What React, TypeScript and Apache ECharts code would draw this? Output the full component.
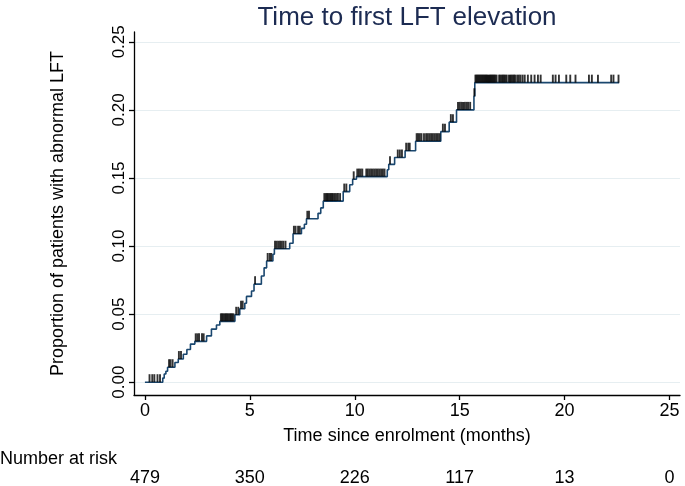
import React, { useEffect, useRef } from 'react';
import * as echarts from 'echarts';

// Kaplan-Meier failure curve: step times (months) and cumulative proportion after each step
const stepTimes = [0, 0.85, 0.92, 1.0, 1.08, 1.43, 1.59, 1.83, 2.0, 2.17, 2.38, 2.94, 3.17, 3.41, 3.57, 4.29, 4.52, 4.76, 4.84, 5.08, 5.2, 5.55, 5.68, 5.8, 6.1, 6.17, 6.9, 7.06, 7.46, 7.6, 7.7, 8.25, 8.38, 8.5, 9.45, 9.76, 9.9, 10.08, 11.55, 11.62, 11.9, 12.4, 12.9, 14.1, 14.5, 14.85, 15.68, 15.72, 22.6];
const stepValues = [0, 0.003, 0.006, 0.008, 0.011, 0.0145, 0.017, 0.0205, 0.024, 0.028, 0.03, 0.034, 0.039, 0.042, 0.0447, 0.0495, 0.054, 0.058, 0.063, 0.067, 0.072, 0.078, 0.084, 0.089, 0.094, 0.098, 0.102, 0.109, 0.113, 0.116, 0.12, 0.124, 0.128, 0.133, 0.14, 0.145, 0.149, 0.151, 0.156, 0.16, 0.165, 0.17, 0.177, 0.184, 0.191, 0.2, 0.21, 0.22, 0.22];

// Censoring times (months)
const censorTimes = [
  0.22, 0.35, 0.45, 0.6, 0.72,
  1.15, 1.22, 1.32, 1.62, 1.72,
  2.42, 2.5, 2.58, 2.72, 2.8,
  3.62, 3.68, 3.74, 3.8, 3.86, 3.92, 3.98, 4.04, 4.1, 4.16, 4.22,
  4.35, 4.45, 4.58, 4.66, 5.25,
  5.85, 5.95, 6.02, 6.2, 6.28, 6.36, 6.44, 6.52, 6.6, 6.7,
  7.1, 7.18, 7.3, 7.38, 7.74, 7.82,
  8.55, 8.62, 8.68, 8.74, 8.8, 8.86, 8.92, 8.98, 9.05, 9.12, 9.2, 9.3,
  9.5, 9.6, 9.95,
  10.12, 10.2, 10.28, 10.36, 10.55, 10.62, 10.7, 10.78, 10.86, 10.94, 11.02, 11.1, 11.18, 11.26, 11.34, 11.42,
  11.68, 12.05, 12.15, 12.25, 12.45, 12.55, 12.62,
  12.95, 13.02, 13.1, 13.18, 13.3, 13.4, 13.48, 13.56, 13.64, 13.72, 13.8, 13.88, 13.96, 14.04,
  14.2, 14.3, 14.58, 14.68,
  14.92, 15.0, 15.08, 15.16, 15.24, 15.32, 15.4, 15.5, 15.7,
  15.75, 15.8, 15.85, 15.9, 15.95, 16.0, 16.05, 16.1, 16.15, 16.2, 16.25, 16.3, 16.35, 16.4, 16.45, 16.5, 16.55, 16.6, 16.65, 16.7, 16.76,
  16.88, 16.94, 17.0, 17.06, 17.12, 17.18, 17.24, 17.34, 17.4, 17.46, 17.52, 17.58, 17.64, 17.74, 17.82, 17.9,
  18.0, 18.1, 18.25, 18.41, 18.57, 18.73, 18.86,
  19.44, 19.57, 19.73, 20.08, 20.27, 20.52, 21.16, 21.3, 21.59, 22.22, 22.33, 22.57,
];

const xTicks = [0, 5, 10, 15, 20, 25];
const yTicks = [0, 0.05, 0.1, 0.15, 0.2, 0.25];
const numberAtRisk = [479, 350, 226, 117, 13, 0];

const FONT = "'Liberation Sans', Arial, Helvetica, sans-serif";

function levelAt(t: number): number {
  let v = 0;
  for (let i = 0; i < stepTimes.length; i++) {
    if (stepTimes[i] <= t) v = stepValues[i];
  }
  return v;
}

export default function App() {
  const ref = useRef<HTMLDivElement>(null);
  useEffect(() => {
    if (!ref.current) return;
    const chart = echarts.init(ref.current, null, { renderer: 'svg' });
    const lineData = stepTimes.map((t, i) => [t, stepValues[i]]);
    const censorData = censorTimes.map((t) => [t, levelAt(t)]);
    const xMin = -0.52;
    const xMax = 25.5;
    chart.setOption({
      animation: false,
      title: {
        text: 'Time to first LFT elevation',
        left: 407,
        top: 2,
        padding: 0,
        textAlign: 'center',
        textStyle: { fontFamily: FONT, fontSize: 26, lineHeight: 28, fontWeight: 'normal', color: '#1c2b52' },
      },
      grid: { left: 134, right: 5, top: 32, bottom: 89 },
      xAxis: [
        {
          type: 'value',
          min: xMin,
          max: xMax,
          axisLine: { show: true, onZero: false, lineStyle: { color: '#000', width: 1.3 } },
          axisTick: { show: true, customValues: xTicks, length: 5, lineStyle: { color: '#000', width: 1.3 } },
          axisLabel: { customValues: xTicks, fontSize: 18, color: '#000', margin: 6, fontFamily: FONT },
          splitLine: { show: false },
          name: 'Time since enrolment (months)',
          nameLocation: 'middle',
          nameGap: 31,
          nameTextStyle: { fontFamily: FONT, fontSize: 18, color: '#000' },
        },
        {
          type: 'value',
          min: xMin,
          max: xMax,
          position: 'bottom',
          axisLine: { show: false },
          axisTick: { show: false, customValues: xTicks },
          axisLabel: {
            customValues: xTicks,
            fontSize: 18,
            color: '#000',
            margin: 73,
            fontFamily: FONT,
            formatter: (v: number) => {
              const idx = xTicks.indexOf(Math.round(v));
              return idx >= 0 ? String(numberAtRisk[idx]) : '';
            },
          },
          splitLine: { show: false },
        },
      ],
      yAxis: {
        type: 'value',
        min: -0.0094,
        max: 0.2572,
        axisLine: { show: true, onZero: false, lineStyle: { color: '#000', width: 1.3 } },
        axisTick: { show: true, customValues: yTicks, length: 5, lineStyle: { color: '#000', width: 1.3 } },
        axisLabel: {
          customValues: yTicks,
          rotate: 90,
          fontSize: 17,
          color: '#000',
          margin: 7,
          fontFamily: FONT,
          formatter: (v: number) => v.toFixed(2),
        },
        splitLine: { show: true, lineStyle: { color: '#e6eef1', width: 1.2 } },
        name: 'Proportion of patients with abnormal LFT',
        nameLocation: 'middle',
        nameGap: 68,
        nameRotate: 90,
        nameTextStyle: { fontFamily: FONT, fontSize: 18, color: '#000' },
      },
      graphic: [
        {
          type: 'text',
          left: 0,
          top: 449,
          style: { text: 'Number at risk', fontSize: 18, fontFamily: FONT, fill: '#000' },
        },
      ],
      series: [
        {
          type: 'line',
          step: 'end',
          data: lineData,
          showSymbol: false,
          lineStyle: { color: '#1a476f', width: 1.6 },
          z: 2,
          silent: true,
        },
        {
          type: 'scatter',
          data: censorData,
          symbol: 'rect',
          symbolSize: [1.9, 8],
          symbolOffset: [0, -4],
          itemStyle: { color: '#000' },
          z: 3,
          silent: true,
        },
      ],
    });
    return () => chart.dispose();
  }, []);
  return <div ref={ref} style={{ position: 'fixed', left: 0, top: 0, width: 685, height: 486 }} />;
}
